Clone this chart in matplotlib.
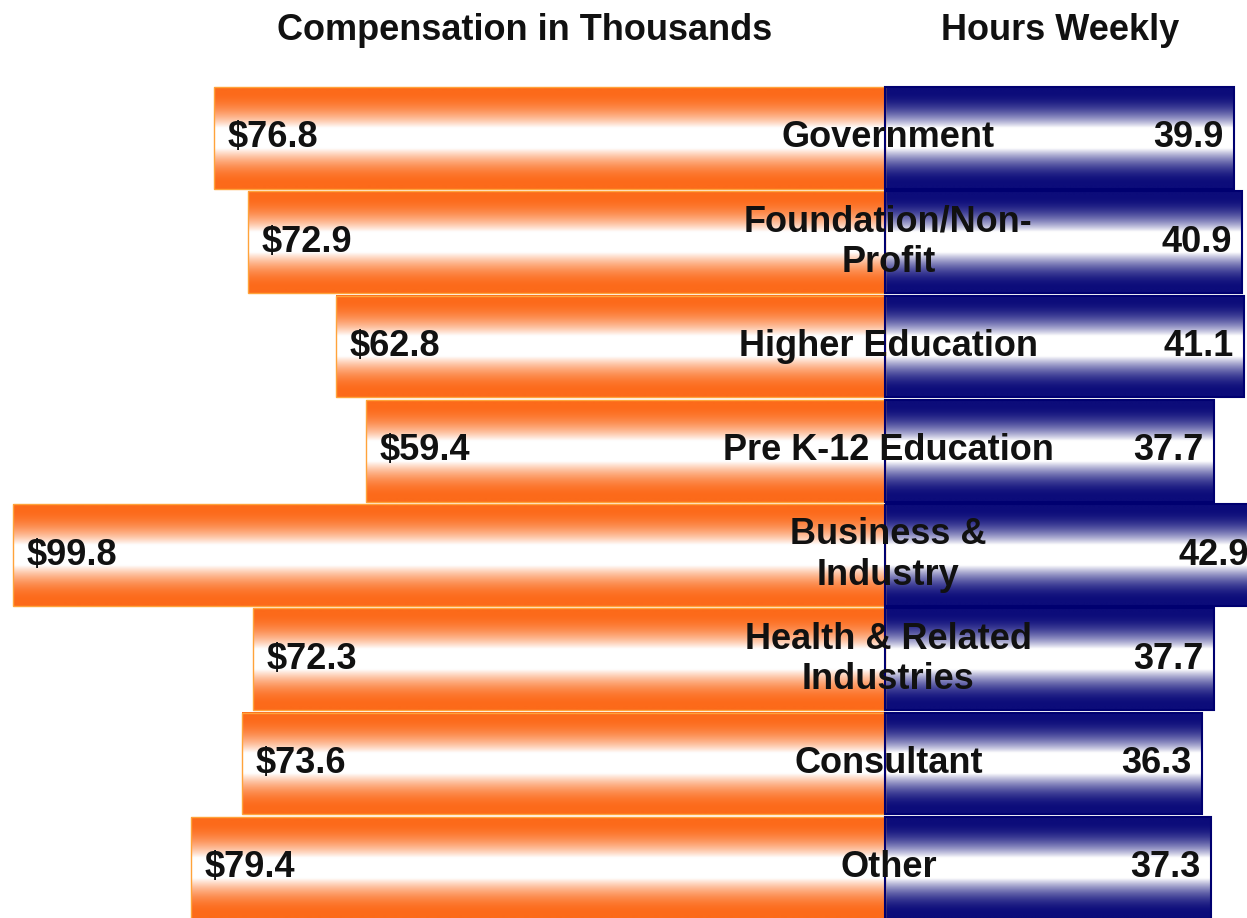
import numpy as np
import matplotlib.pyplot as plt
from matplotlib.colors import to_rgb

# Data
sectors = ["Government", "Foundation/Non-\nProfit", "Higher Education",
           "Pre K-12 Education", "Business &\nIndustry",
           "Health & Related\nIndustries", "Consultant", "Other"]
compensation = [76.8, 72.9, 62.8, 59.4, 99.8, 72.3, 73.6, 79.4]
hours = [39.9, 40.9, 41.1, 37.7, 42.9, 37.7, 36.3, 37.3]

plt.rcParams["font.family"] = ["Liberation Sans", "DejaVu Sans"]
plt.rcParams["font.weight"] = "bold"

orange = np.array(to_rgb("#FC6A1A"))
navy = np.array(to_rgb("#0C0C7A"))


def gradient(color, n=300):
    # vertical profile: colour at both edges, white in the middle
    t = np.linspace(0, 1, n)
    d = np.minimum(t, 1 - t)
    w = np.clip((d - 0.05) / 0.35, 0, 1) ** 1.9
    rgb = color[None, :] * (1 - w[:, None]) + w[:, None]
    return rgb[:, None, :]


fig = plt.figure(figsize=(12.47, 9.18), dpi=100)
ax = fig.add_axes([0, 0, 1, 1])
y = np.arange(len(sectors))

left_bars = ax.barh(y, [-c for c in compensation], height=0.975,
                    facecolor="none", edgecolor="#FFA33A", linewidth=1, zorder=3)
right_bars = ax.barh(y, hours, height=0.975,
                     facecolor="none", edgecolor="#000070", linewidth=1.5, zorder=4)

for bars, col in [(left_bars, orange), (right_bars, navy)]:
    for b in bars:
        x0, x1 = sorted([b.get_x(), b.get_x() + b.get_width()])
        y0, y1 = b.get_y(), b.get_y() + b.get_height()
        ax.imshow(gradient(col), extent=[x0, x1, y1, y0], aspect="auto",
                  interpolation="bilinear", zorder=2)

fs = 26
for i in range(len(sectors)):
    ax.text(-compensation[i] + 1.55, y[i], f"${compensation[i]:.1f}",
            ha="left", va="center", fontsize=fs, color="#111111", zorder=6)
    ax.text(hours[i] - 1.2, y[i], f"{hours[i]:.1f}",
            ha="right", va="center", fontsize=fs, color="#111111", zorder=6)
    ax.text(0.4, y[i], sectors[i], ha="center", va="center",
            multialignment="center", fontsize=fs, color="#111111", zorder=6)

ax.set_xlim(-101.26, 41.42)
ax.set_ylim(7.48, -1.3217)
ax.axis("off")

fig.text(525 / 1247, 1 - 31 / 918, "Compensation in Thousands",
         ha="center", va="center", fontsize=fs, color="#111111")
fig.text(1060 / 1247, 1 - 31 / 918, "Hours Weekly",
         ha="center", va="center", fontsize=fs, color="#111111")

fig.savefig("out.png", dpi=100)
